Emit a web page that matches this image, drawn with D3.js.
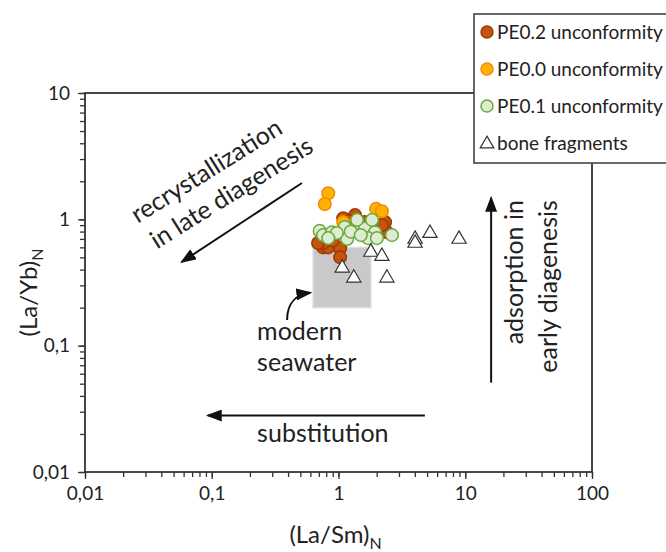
<!DOCTYPE html>
<html>
<head>
<meta charset="utf-8">
<script src="https://cdn.jsdelivr.net/npm/d3@7.9.0/dist/d3.min.js"></script>
<style>
  body { margin: 0; background: #fff; }
  text { font-family: Lato, "Open Sans", sans-serif; fill: #222; }
</style>
</head>
<body>
<div class="container"></div>
<script>
const width = 666, height = 552;

// values: [La/Sm, La/Yb]
const pe02 = [[1.09, 1.02], [1.35, 1.08], [2.33, 0.95], [2.41, 0.79], [1.2, 0.97], [1.6, 0.95],
              [2.2, 0.9], [0.755, 0.60], [0.83, 0.60], [1.03, 0.59], [1.03, 0.50], [0.755, 0.65],
              [0.69, 0.65], [0.9, 0.68]];
const pe00 = [[0.83, 1.61], [0.78, 1.32], [1.98, 1.21], [2.20, 1.16], [1.09, 0.95]];
const pe01 = [[0.71, 0.81], [0.755, 0.75], [0.89, 0.79], [1.12, 0.87], [1.35, 0.84], [1.17, 0.70],
              [1.62, 0.85], [1.84, 0.99], [1.94, 0.79], [1.71, 0.71], [2.01, 0.71], [2.64, 0.75],
              [1.40, 0.99], [0.97, 0.78], [0.83, 0.71], [1.25, 0.80], [1.5, 0.75]];
const bones = [[1.07, 0.42], [1.32, 0.35], [1.80, 0.56], [2.20, 0.52], [2.41, 0.35],
               [4.02, 0.71], [4.02, 0.66], [5.27, 0.79], [8.93, 0.71]];
const seawater = {x0: 0.63, x1: 1.8, y0: 0.2, y1: 0.6};

const xTicks = [0.01, 0.1, 1, 10, 100];
const yTicks = [0.01, 0.1, 1, 10];
const legendLabels = ["PE0.2 unconformity", "PE0.0 unconformity", "PE0.1 unconformity", "bone fragments"];

const x = d3.scaleLog().domain([0.01, 100]).range([85, 592]);
const y = d3.scaleLog().domain([0.01, 10]).range([472, 93]);

const svg = d3.select(".container").append("svg")
    .attr("width", width).attr("height", height);

const defs = svg.append("defs");
defs.append("marker")
    .attr("id", "head")
    .attr("viewBox", "0 0 16 12")
    .attr("refX", 14).attr("refY", 6)
    .attr("markerWidth", 8).attr("markerHeight", 6)
    .attr("markerUnits", "strokeWidth")
    .attr("orient", "auto")
  .append("path")
    .attr("d", "M0,0L16,6L0,12Z")
    .attr("fill", "#111");

const fmt = d => String(d).replace(".", ",");
const minor = [];
for (let p = -2; p < 2; p++) for (let k = 1; k < 10; k++) minor.push(+(k * Math.pow(10, p)).toPrecision(2));
minor.push(100);

// minor ticks
svg.append("g").attr("transform", `translate(0,${y.range()[0]})`)
    .call(d3.axisBottom(x).tickValues(minor).tickSize(5).tickFormat(""))
    .call(g => g.select(".domain").remove());
svg.append("g").attr("transform", `translate(${x.range()[0]},0)`)
    .call(d3.axisLeft(y).tickValues(minor.filter(d => d <= 10)).tickSize(5).tickFormat(""))
    .call(g => g.select(".domain").remove());

// major ticks + labels
svg.append("g").attr("transform", `translate(0,${y.range()[0]})`)
    .call(d3.axisBottom(x).tickValues(xTicks).tickSize(7).tickPadding(8).tickFormat(fmt))
    .call(g => g.select(".domain").remove())
    .call(g => g.selectAll("text").style("font-size", "19px").attr("fill", "#222"));
svg.append("g").attr("transform", `translate(${x.range()[0]},0)`)
    .call(d3.axisLeft(y).tickValues(yTicks).tickSize(7).tickPadding(8).tickFormat(fmt))
    .call(g => g.select(".domain").remove())
    .call(g => g.selectAll("text").style("font-size", "19px").attr("fill", "#222"));

svg.selectAll(".tick line").attr("stroke", "#333").attr("stroke-width", 1.3);

// frame
svg.append("rect")
    .attr("x", x.range()[0]).attr("y", y.range()[1])
    .attr("width", x.range()[1] - x.range()[0])
    .attr("height", y.range()[0] - y.range()[1])
    .attr("fill", "none").attr("stroke", "#333").attr("stroke-width", 1.8);

// modern seawater box
svg.append("rect")
    .attr("x", x(seawater.x0)).attr("y", y(seawater.y1))
    .attr("width", x(seawater.x1) - x(seawater.x0))
    .attr("height", y(seawater.y0) - y(seawater.y1))
    .attr("fill", "#c9c9c9").attr("stroke", "#dedede").attr("stroke-width", 1.5);

// points
function dots(data, fill, stroke) {
  svg.append("g").selectAll("circle").data(data).join("circle")
      .attr("cx", d => x(d[0])).attr("cy", d => y(d[1]))
      .attr("r", 6.3)
      .attr("fill", fill).attr("stroke", stroke).attr("stroke-width", 1.5);
}
dots(pe02, "#c4540c", "#9a3c06");
dots(pe00, "#ffb300", "#f48a00");
dots(pe01, "#ddecd3", "#6aab3c");

const tri = d3.symbol().type(d3.symbolTriangle).size(88);
svg.append("g").selectAll("path").data(bones).join("path")
    .attr("transform", d => `translate(${x(d[0])},${y(d[1]) + 1})`)
    .attr("d", tri)
    .attr("fill", "#fff").attr("stroke", "#333").attr("stroke-width", 1.2);

// annotations
function arrow(x1, y1, x2, y2) {
  svg.append("line")
      .attr("x1", x(x1)).attr("y1", y(y1)).attr("x2", x(x2)).attr("y2", y(y2))
      .attr("stroke", "#111").attr("stroke-width", 2)
      .attr("marker-end", "url(#head)");
}
arrow(0.515, 1.94, 0.058, 0.46);
arrow(4.8, 0.028, 0.093, 0.028);
arrow(16, 0.051, 16, 1.48);

svg.append("path")
    .attr("d", `M${x(0.393)},${y(0.16)} C${x(0.393)},${y(0.22)} ${x(0.47)},${y(0.255)} ${x(0.6)},${y(0.262)}`)
    .attr("fill", "none").attr("stroke", "#111").attr("stroke-width", 2)
    .attr("marker-end", "url(#head)");

const ann = svg.append("g").style("font-size", "25px");
function rotText(str, dx, dy, angle, anchor) {
  ann.append("text")
      .attr("transform", `translate(${x(dx)},${y(dy)}) rotate(${angle})`)
      .attr("text-anchor", anchor)
      .text(str);
}
rotText("recrystallization", 0.0986, 2.12, -32, "middle");
rotText("in late diagenesis", 0.155, 1.42, -32, "middle");
rotText("adsorption in", 28.6, 1.42, -90, "end");
rotText("early diagenesis", 53, 1.42, -90, "end");
rotText("modern", 0.228, 0.111, 0, "start");
rotText("seawater", 0.228, 0.063, 0, "start");
rotText("substitution", 0.228, 0.0173, 0, "start");

// axis titles
const xt = svg.append("text").attr("x", (x.range()[0] + x.range()[1]) / 2 - 3).attr("y", 543)
    .attr("text-anchor", "middle").style("font-size", "24px");
xt.append("tspan").text("(La/Sm)");
xt.append("tspan").text("N").attr("dy", 6).style("font-size", "16px");

const yt = svg.append("text")
    .attr("transform", `translate(37,${(y.range()[0] + y.range()[1]) / 2 + 10}) rotate(-90)`)
    .attr("text-anchor", "middle").style("font-size", "24px");
yt.append("tspan").text("(La/Yb)");
yt.append("tspan").text("N").attr("dy", 6).style("font-size", "16px");

// legend
const lg = svg.append("g");
lg.append("rect").attr("x", 474).attr("y", 14).attr("width", 210).attr("height", 149)
    .attr("fill", "#fff").attr("stroke", "#444").attr("stroke-width", 1.6);
const ly = d3.scalePoint().domain(legendLabels).range([32, 143]);
const lstyle = [["#c4540c", "#9a3c06"], ["#ffb300", "#f48a00"], ["#ddecd3", "#6aab3c"]];
legendLabels.forEach((lab, i) => {
  if (i < 3) {
    lg.append("circle").attr("cx", 487).attr("cy", ly(lab)).attr("r", 6)
        .attr("fill", lstyle[i][0]).attr("stroke", lstyle[i][1]).attr("stroke-width", 1.5);
  } else {
    lg.append("path").attr("transform", `translate(487,${ly(lab) + 1})`)
        .attr("d", d3.symbol().type(d3.symbolTriangle).size(80))
        .attr("fill", "#fff").attr("stroke", "#333").attr("stroke-width", 1.2);
  }
  lg.append("text").attr("x", 497).attr("y", ly(lab) + 6.5)
      .style("font-size", "19px").text(lab);
});
</script>
</body>
</html>
